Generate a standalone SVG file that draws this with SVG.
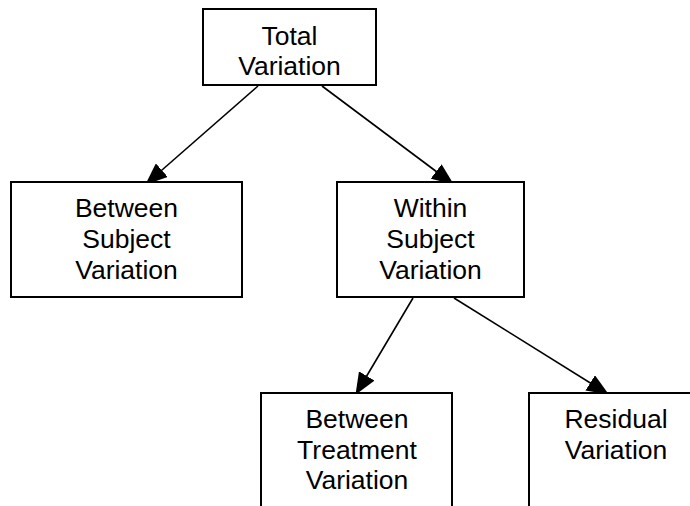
<svg xmlns="http://www.w3.org/2000/svg" width="690" height="506" viewBox="0 0 690 506">
<style>
.box{fill:#fff;stroke:#000;stroke-width:2}
.lbl{font-family:"Liberation Sans",Arial,sans-serif;font-size:26.5px;fill:#000;text-anchor:middle}
.edge{stroke:#000;stroke-width:1.6;fill:none;marker-end:url(#ah)}
</style>
<defs>
<marker id="ah" viewBox="0 0 22 18" refX="21" refY="9" markerWidth="22" markerHeight="18" markerUnits="userSpaceOnUse" orient="auto">
<path d="M0,0 L22,9 L0,18 z" fill="#000"/>
</marker>
</defs>
<rect width="690" height="506" fill="#fff"/>
<g id="connectors">
<line class="edge" x1="258" y1="86" x2="146" y2="184"/>
<line class="edge" x1="322" y1="86" x2="453" y2="184"/>
<line class="edge" x1="413" y1="298" x2="356" y2="394"/>
<line class="edge" x1="454" y1="298" x2="608" y2="394"/>
</g>
<g id="total">
<rect class="box" x="203" y="9" width="173" height="76"/>
<text class="lbl" x="289.5" y="45">Total</text>
<text class="lbl" x="289.5" y="75">Variation</text>
</g>
<g id="between-subject">
<rect class="box" x="11" y="182" width="231" height="115"/>
<text class="lbl" x="126.5" y="217">Between</text>
<text class="lbl" x="126.5" y="248">Subject</text>
<text class="lbl" x="126.5" y="279">Variation</text>
</g>
<g id="within-subject">
<rect class="box" x="337" y="182" width="187" height="115"/>
<text class="lbl" x="430.5" y="217">Within</text>
<text class="lbl" x="430.5" y="248">Subject</text>
<text class="lbl" x="430.5" y="279">Variation</text>
</g>
<g id="between-treatment">
<rect class="box" x="261" y="393" width="191" height="130"/>
<text class="lbl" x="357" y="428">Between</text>
<text class="lbl" x="357" y="459">Treatment</text>
<text class="lbl" x="357" y="489">Variation</text>
</g>
<g id="residual">
<rect class="box" x="529" y="393" width="180" height="130"/>
<text class="lbl" x="616" y="428">Residual</text>
<text class="lbl" x="616" y="459">Variation</text>
</g>
</svg>
